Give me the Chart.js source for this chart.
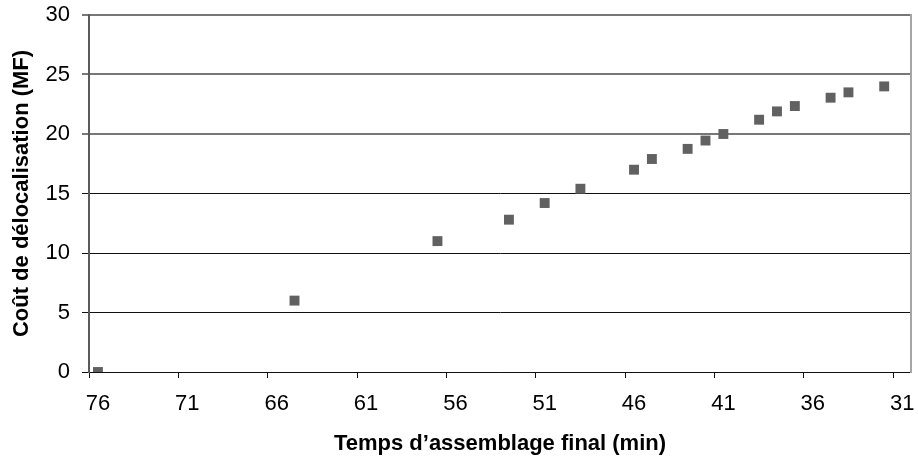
<!DOCTYPE html>
<html>
<head>
<meta charset="utf-8">
<script src="https://cdn.jsdelivr.net/npm/chart.js@4/dist/chart.umd.min.js"></script>
<style>
  html, body { margin: 0; padding: 0; background: #fff; }
  #wrap { width: 918px; height: 457px; }
</style>
</head>
<body>
<div id="wrap"><canvas id="c" width="918" height="457"></canvas></div>
<script>
// Temps d'assemblage final (min)
const assemblyTime = [76, 65, 57, 53, 51, 49, 46, 45, 43, 42, 41, 39, 38, 37, 35, 34, 32];
// Coût de délocalisation (MF)
const relocationCost = [0, 6.0, 11.0, 12.8, 14.2, 15.4, 17.0, 17.9, 18.75, 19.45, 20.0, 21.2, 21.9, 22.35, 23.05, 23.5, 24.0];
const xTickLabels = ["76", "71", "66", "61", "56", "51", "46", "41", "36", "31"];
const yTickValues = [0, 5, 10, 15, 20, 25, 30];
const xTitle = "Temps d\u2019assemblage final (min)";
const yTitle = "Co\u00fbt de d\u00e9localisation (MF)";

const points = assemblyTime.map((x, i) => ({ x: x, y: relocationCost[i] }));
const FONT = "'Liberation Sans', Arial, Helvetica, sans-serif";

new Chart(document.getElementById('c'), {
  type: 'scatter',
  data: {
    datasets: [{
      data: points,
      pointStyle: 'rect',
      pointRadius: 7,
      pointHoverRadius: 7,
      backgroundColor: '#616161',
      borderColor: '#616161',
      borderWidth: 0
    }]
  },
  options: {
    responsive: false,
    animation: false,
    events: [],
    layout: { padding: { top: 15, left: 0, right: 0, bottom: 0 } },
    plugins: { legend: { display: false }, tooltip: { enabled: false } },
    scales: {
      x: {
        type: 'linear',
        reverse: true,
        min: 30.5,
        max: 76.5,
        afterBuildTicks: (scale) => {
          scale.ticks = xTickLabels.map(l => ({ value: Number(l) + 0.5 }));
        },
        afterFit: (scale) => {
          scale.height = 85;
          scale.paddingLeft = 0;
          scale.paddingRight = 0;
        },
        ticks: {
          autoSkip: false,
          maxRotation: 0,
          padding: 13,
          labelOffset: 9,
          color: '#000',
          font: { family: FONT, size: 22 },
          callback: (v, i) => xTickLabels[i]
        },
        grid: {
          drawOnChartArea: false,
          drawTicks: true,
          tickLength: 6,
          color: '#111',
          lineWidth: 1
        },
        border: { display: true, color: '#111', width: 1 },
        title: {
          display: true,
          text: xTitle,
          color: '#000',
          font: { family: FONT, size: 22, weight: 'bold' },
          padding: { top: 0, bottom: 0 }
        }
      },
      y: {
        type: 'linear',
        position: 'left',
        min: 0,
        max: 30,
        afterBuildTicks: (scale) => {
          scale.ticks = yTickValues.map(v => ({ value: v }));
        },
        afterFit: (scale) => {
          scale.width = 89;
          scale.paddingTop = 0;
          scale.paddingBottom = 0;
        },
        ticks: {
          padding: 12,
          color: '#000',
          font: { family: FONT, size: 22 },
          callback: (v) => String(v)
        },
        grid: {
          drawTicks: true,
          tickLength: 7,
          color: (ctx) => (ctx.tick && ctx.tick.value >= 20) ? '#777' : '#111',
          lineWidth: (ctx) => (ctx.tick && ctx.tick.value >= 20) ? 2 : 1
        },
        border: { display: true, color: '#5a5a5a', width: 2 },
        title: {
          display: true,
          text: yTitle,
          color: '#000',
          font: { family: FONT, size: 22, weight: 'bold' },
          padding: { top: 9, bottom: 0 }
        }
      },
      y2: {
        type: 'linear',
        position: 'right',
        min: 0,
        max: 30,
        afterFit: (scale) => {
          scale.width = 3;
          scale.paddingTop = 0;
          scale.paddingBottom = 0;
        },
        ticks: { display: false },
        grid: { display: false, drawOnChartArea: false, drawTicks: false },
        border: { display: true, color: '#a6a6a6', width: 2 }
      }
    }
  }
});
</script>
</body>
</html>
